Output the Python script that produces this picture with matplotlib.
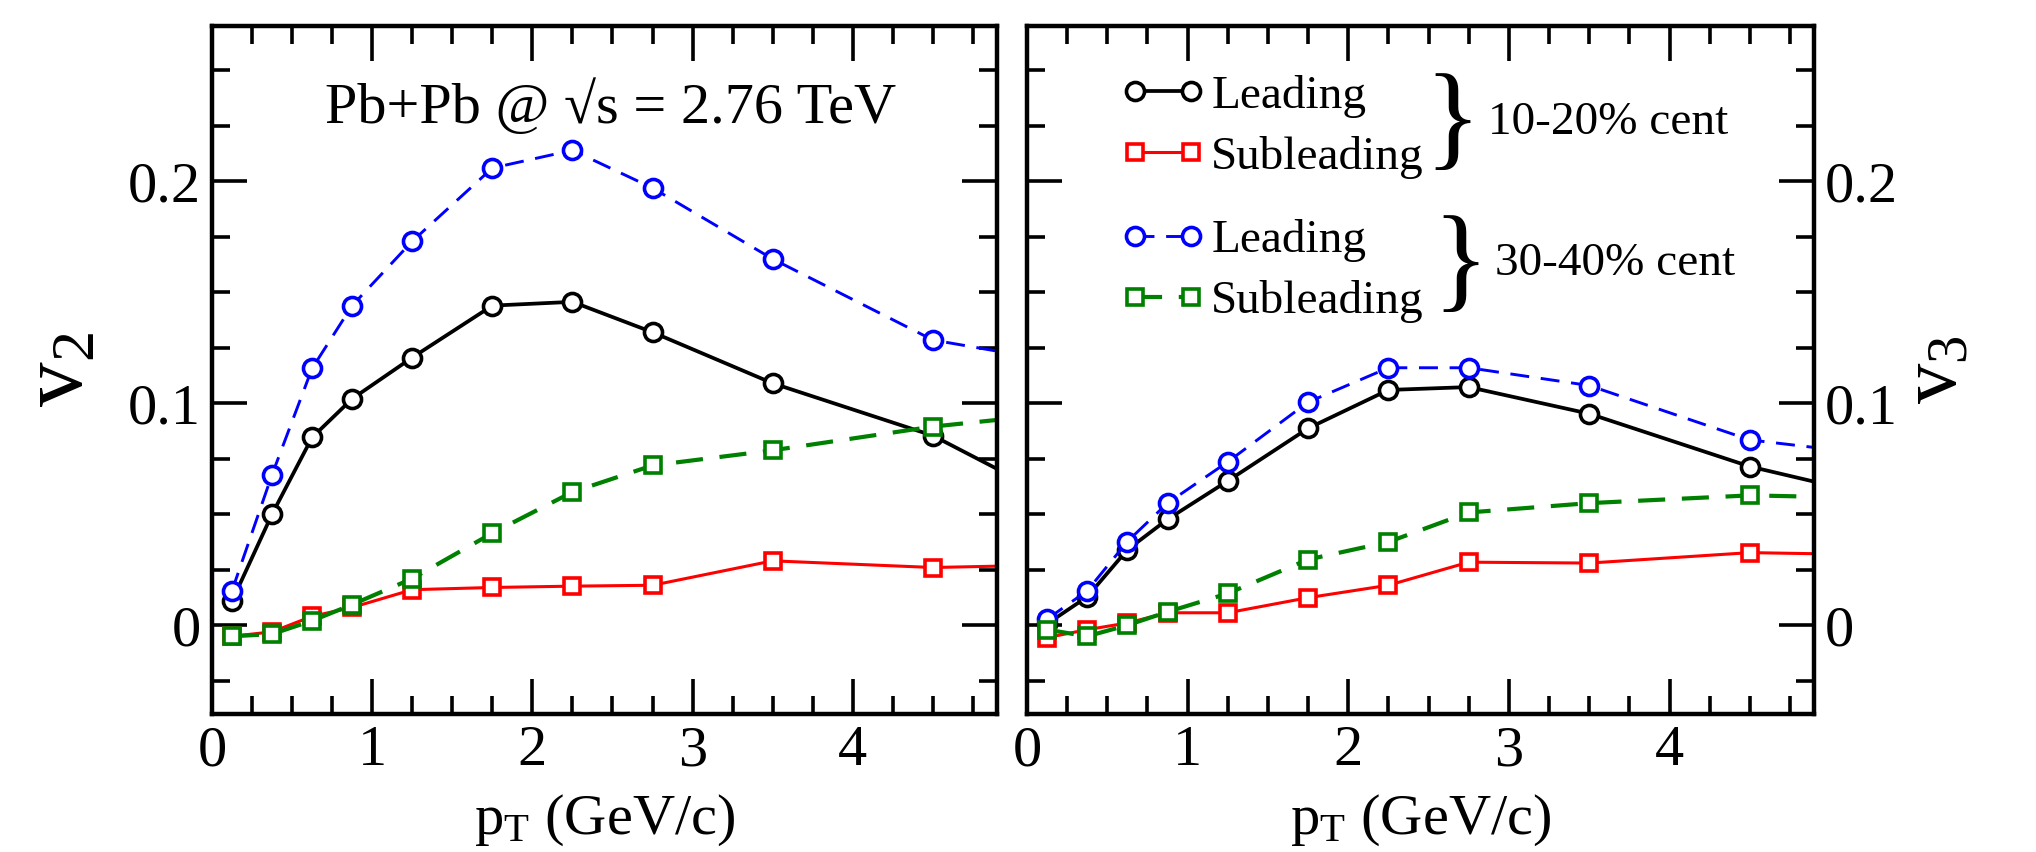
import matplotlib
matplotlib.use('Agg')
import matplotlib.pyplot as plt
from matplotlib.lines import Line2D
from matplotlib.ticker import MultipleLocator

plt.rcParams['font.family'] = ['Liberation Serif', 'DejaVu Serif']
plt.rcParams['mathtext.fontset'] = 'custom'
plt.rcParams['mathtext.rm'] = 'Liberation Serif'
plt.rcParams['mathtext.it'] = 'Liberation Serif:italic'

# pT bin centres (last one lies past the visible range)
pt = [0.125, 0.375, 0.625, 0.875, 1.25, 1.75, 2.25, 2.75, 3.5, 4.5, 5.5]

# v2, left panel
v2_lead_1020 = [0.0108, 0.050, 0.0846, 0.102, 0.1206, 0.144, 0.1457, 0.132, 0.109, 0.0854, 0.048]
v2_sub_1020 = [-0.005, -0.003, 0.004, 0.008, 0.016, 0.017, 0.0176, 0.018, 0.029, 0.026, 0.0275]
v2_lead_3040 = [0.0155, 0.0678, 0.1157, 0.144, 0.173, 0.206, 0.214, 0.197, 0.165, 0.1285, 0.116]
v2_sub_3040 = [-0.005, -0.004, 0.002, 0.0093, 0.021, 0.0415, 0.060, 0.072, 0.0788, 0.0895, 0.097]

# v3, right panel
v3_lead_1020 = [0.0006, 0.0128, 0.034, 0.0477, 0.065, 0.0887, 0.106, 0.1073, 0.0953, 0.0715, 0.0545]
v3_sub_1020 = [-0.0056, -0.002, 0.001, 0.0056, 0.0056, 0.0124, 0.018, 0.0284, 0.028, 0.0327, 0.0315]
v3_lead_3040 = [0.0027, 0.0155, 0.0377, 0.055, 0.0736, 0.1005, 0.116, 0.116, 0.108, 0.0835, 0.075]
v3_sub_3040 = [-0.002, -0.005, 0.0, 0.006, 0.0143, 0.0296, 0.0375, 0.0508, 0.055, 0.0585, 0.057]

labels = ['Leading', 'Subleading', 'Leading', 'Subleading']
groups = ['10-20% cent', '30-40% cent']

styles = [
    dict(color='black', lw=2.7, ls='-', marker='o', ms=13),
    dict(color='red', lw=2.2, ls='-', marker='s', ms=11.5),
    dict(color='blue', lw=2.1, ls=(0, (6.5, 4)), marker='o', ms=13),
    dict(color='green', lw=3.0, ls=(0, (6.5, 4)), marker='s', ms=11.5),
]

fig = plt.figure(figsize=(20.36, 8.52), dpi=100)
ax1 = fig.add_axes([0.1041, 0.162, 0.3856, 0.8075])
ax2 = fig.add_axes([0.5044, 0.162, 0.3866, 0.8075])

panels = [(ax1, [v2_lead_1020, v2_sub_1020, v2_lead_3040, v2_sub_3040]),
          (ax2, [v3_lead_1020, v3_sub_1020, v3_lead_3040, v3_sub_3040])]

for ax, series in panels:
    for ys, st in zip(series, styles):
        ax.plot(pt, ys, color=st['color'], lw=st['lw'], ls=st['ls'],
                marker=st['marker'], ms=st['ms'], mfc='white',
                mec=st['color'], mew=2.6)
    ax.set_xlim(0, 4.9)
    ax.set_ylim(-0.04, 0.27)
    ax.xaxis.set_major_locator(MultipleLocator(1))
    ax.xaxis.set_minor_locator(MultipleLocator(0.25))
    ax.yaxis.set_major_locator(MultipleLocator(0.1))
    ax.yaxis.set_minor_locator(MultipleLocator(0.025))
    ax.set_xticks([0, 1, 2, 3, 4])
    ax.set_xticklabels(['0', '1', '2', '3', '4'])
    ax.tick_params(which='both', direction='in', top=True, right=True,
                   left=True, width=2.6, labelsize=42, pad=8)
    ax.tick_params(which='major', length=25)
    ax.tick_params(which='minor', length=13)
    for sp in ax.spines.values():
        sp.set_linewidth(3.2)
    ax.set_xlabel(r'p$_\mathrm{T}$ (GeV/c)', fontsize=42, labelpad=11)

ax1.set_yticks([0, 0.1, 0.2])
ax1.set_yticklabels(['0', '0.1', '0.2'])
ax2.set_yticks([0, 0.1, 0.2])
ax2.set_yticklabels(['0', '0.1', '0.2'])
ax2.tick_params(axis='y', labelleft=False, labelright=True)

ax1.set_ylabel(r'v$_\mathrm{2}$', fontsize=64)
ax1.yaxis.set_label_coords(-0.14, 0.5)
ax2.set_ylabel(r'v$_\mathrm{3}$', fontsize=58)
ax2.yaxis.set_label_position('right')
ax2.yaxis.set_label_coords(1.11, 0.5)

ax1.text(0.508, 0.859, 'Pb+Pb @ \u221As = 2.76 TeV', transform=ax1.transAxes,
         ha='center', va='baseline', fontsize=42)

# legends, two groups with braces
handles = [Line2D([], [], color=st['color'], lw=st['lw'], ls=st['ls'],
                  marker=st['marker'], ms=st['ms'], mfc='white',
                  mec=st['color'], mew=2.6) for st in styles]

leg_kw = dict(loc='upper left', frameon=False, fontsize=34,
              handlelength=1.8, handletextpad=0.12, numpoints=2,
              labelspacing=0.38, borderpad=0, borderaxespad=0)
leg1 = ax2.legend(handles[:2], labels[:2], bbox_to_anchor=(0.119, 0.929), **leg_kw)
ax2.add_artist(leg1)
ax2.legend(handles[2:], labels[2:], bbox_to_anchor=(0.119, 0.719), **leg_kw)

ax2.text(0.541, 0.854, '}', transform=ax2.transAxes, ha='center',
         va='center', fontsize=84)
ax2.text(0.586, 0.859, groups[0], transform=ax2.transAxes, ha='left',
         va='center', fontsize=34)
ax2.text(0.551, 0.648, '}', transform=ax2.transAxes, ha='center',
         va='center', fontsize=84)
ax2.text(0.595, 0.655, groups[1], transform=ax2.transAxes, ha='left',
         va='center', fontsize=34)

plt.savefig('out.png', dpi=100)
